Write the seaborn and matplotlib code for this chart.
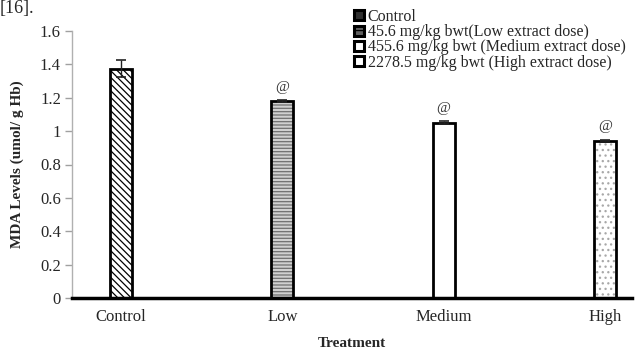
import matplotlib
matplotlib.use("Agg")
import matplotlib.pyplot as plt
from matplotlib.patches import Patch
import seaborn as sns
import pandas as pd

# ---- data ----
categories = ["Control", "Low", "Medium", "High"]
mda_values = [1.375, 1.18, 1.05, 0.943]
mda_errors = [0.05, 0.006, 0.008, 0.004]
significance = ["", "@", "@", "@"]
legend_labels = [
    "Control",
    "45.6 mg/kg bwt(Low extract dose)",
    "455.6 mg/kg bwt (Medium extract dose)",
    "2278.5 mg/kg bwt (High extract dose)",
]
y_ticks = [0, 0.2, 0.4, 0.6, 0.8, 1, 1.2, 1.4, 1.6]
y_tick_labels = ["0", "0.2", "0.4", "0.6", "0.8", "1", "1.2", "1.4", "1.6"]

# ---- styles ----
face_colors = ["white", "#d0d0d0", "white", "white"]
hatch_colors = ["black", "#707070", "white", "#a8a8a8"]
hatches = ["\\" * 5, "-" * 5, "", "..."]

sns.set_theme(style="white")
plt.rcParams["font.family"] = ["Liberation Serif", "DejaVu Serif"]
plt.rcParams["hatch.linewidth"] = 0.9

df = pd.DataFrame({"Treatment": categories, "MDA": mda_values})

fig = plt.figure(figsize=(6.38, 3.49), dpi=100)
ax = fig.add_axes([72 / 638, 51 / 349, 560 / 638, 267 / 349])

# fill + hatch layer
sns.barplot(data=df, x="Treatment", y="MDA", hue="Treatment",
            palette=dict(zip(categories, face_colors)), width=0.136,
            dodge=False, legend=False, saturation=1, ax=ax, errorbar=None)
for p, h, hc in zip(ax.patches, hatches, hatch_colors):
    p.set_hatch(h)
    p.set_edgecolor(hc)
    p.set_linewidth(0)

# outline layer
sns.barplot(data=df, x="Treatment", y="MDA", width=0.136, fill=False,
            edgecolor="black", linewidth=2.0, ax=ax, errorbar=None)

# error bars
ax.errorbar(range(len(categories)), mda_values, yerr=mda_errors, fmt="none",
            ecolor="#222222", elinewidth=1.0, capsize=3.5, capthick=1.2, zorder=5)

# significance marks
for i, (v, s) in enumerate(zip(mda_values, significance)):
    if s:
        ax.annotate(s, (i, v), xytext=(0, 10), textcoords="offset points",
                    ha="center", va="center", fontsize=11, color="#333333")

ax.set_xlim(-0.304, 3.168)
ax.set_ylim(0, 1.6)
ax.set_yticks(y_ticks)
ax.set_yticklabels(y_tick_labels)
ax.tick_params(axis="y", length=5, width=1, color="#a0a0a0", pad=3, labelsize=12, left=True)
ax.tick_params(axis="x", length=0, pad=8, labelsize=12)

for side in ["top", "right"]:
    ax.spines[side].set_visible(False)
ax.spines["left"].set_color("#b0b0b0")
ax.spines["left"].set_linewidth(1)
ax.spines["bottom"].set_color("black")
ax.spines["bottom"].set_linewidth(2.5)

ax.set_xlabel("Treatment", fontsize=11, fontweight="bold")
ax.set_ylabel("MDA Levels (umol/ g Hb)", fontsize=11, fontweight="bold")
ax.xaxis.set_label_coords(0.5, -0.145)
ax.yaxis.set_label_coords(-0.085, 0.5)

# legend
handles = [Patch(facecolor=fc, edgecolor="black", hatch=h, linewidth=2.2)
           for fc, h in zip(["#303030", "#606060", "white", "white"], ["", "---", "", ""])]
fig.legend(handles, legend_labels, loc="upper left",
           bbox_to_anchor=(354 / 638, 1 - 9 / 349), frameon=False,
           fontsize=11.5, handlelength=0.6, handleheight=0.6,
           handletextpad=0.25, labelspacing=-0.05, borderpad=0, borderaxespad=0)

fig.text(0.0, 1.0, "[16].", fontsize=13, va="top", ha="left")

fig.savefig("out.png", dpi=100)
